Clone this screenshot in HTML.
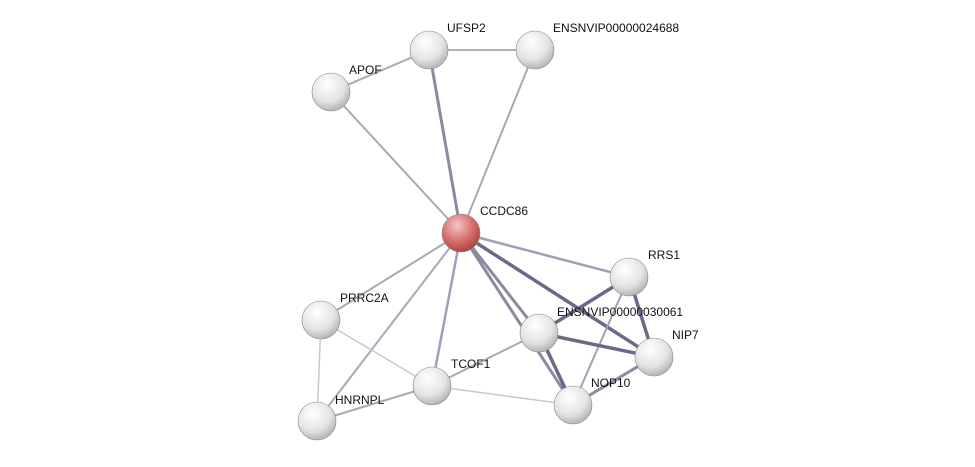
<!DOCTYPE html>
<html><head><meta charset="utf-8"><style>
html,body{margin:0;padding:0;background:#fff;}
svg{display:block;}
text{font-family:"Liberation Sans",sans-serif;font-size:12px;fill:#111;}
</style></head><body>
<svg width="975" height="467" viewBox="0 0 975 467" xmlns="http://www.w3.org/2000/svg">
<defs>
<radialGradient id="g" cx="0.4" cy="0.3" r="0.75">
<stop offset="0" stop-color="#ffffff"/><stop offset="0.6" stop-color="#e4e4e4"/><stop offset="1" stop-color="#adadad"/>
</radialGradient>
<radialGradient id="r" cx="0.4" cy="0.3" r="0.75">
<stop offset="0" stop-color="#f4c4c4"/><stop offset="0.55" stop-color="#d87070"/><stop offset="1" stop-color="#a83c3c"/>
</radialGradient>
</defs>
<g stroke-linecap="round">
<line x1="331" y1="92" x2="429" y2="50" stroke="#a8a8b8" stroke-width="2"/>
<line x1="429" y1="50" x2="535" y2="50" stroke="#b0b0c0" stroke-width="2"/>
<line x1="429" y1="50" x2="461" y2="233" stroke="#8a8aa0" stroke-width="3"/>
<line x1="535" y1="50" x2="461" y2="233" stroke="#a8a8b8" stroke-width="2"/>
<line x1="331" y1="92" x2="461" y2="233" stroke="#a8a8b8" stroke-width="2"/>
<line x1="461" y1="233" x2="629" y2="277" stroke="#a0a0b4" stroke-width="2.5"/>
<line x1="461" y1="233" x2="321" y2="320" stroke="#a8a8b8" stroke-width="2"/>
<line x1="461" y1="233" x2="317" y2="421" stroke="#a8a8b8" stroke-width="2"/>
<line x1="461" y1="233" x2="432" y2="386" stroke="#a0a0b4" stroke-width="2.5"/>
<line x1="461" y1="233" x2="539" y2="333" stroke="#8a8aa0" stroke-width="3"/>
<line x1="461" y1="233" x2="654" y2="357" stroke="#6a6a88" stroke-width="3.5"/>
<line x1="461" y1="233" x2="573" y2="405" stroke="#8a8aa0" stroke-width="3"/>
<line x1="321" y1="320" x2="317" y2="421" stroke="#c8c8d0" stroke-width="1.5"/>
<line x1="321" y1="320" x2="432" y2="386" stroke="#c8c8d0" stroke-width="1.5"/>
<line x1="317" y1="421" x2="432" y2="386" stroke="#a8a8b8" stroke-width="2"/>
<line x1="432" y1="386" x2="539" y2="333" stroke="#a8a8b8" stroke-width="2"/>
<line x1="432" y1="386" x2="573" y2="405" stroke="#c8c8d0" stroke-width="1.5"/>
<line x1="629" y1="277" x2="539" y2="333" stroke="#6a6a88" stroke-width="3.5"/>
<line x1="629" y1="277" x2="654" y2="357" stroke="#6a6a88" stroke-width="3.5"/>
<line x1="629" y1="277" x2="573" y2="405" stroke="#a0a0b4" stroke-width="2"/>
<line x1="539" y1="333" x2="654" y2="357" stroke="#6a6a88" stroke-width="3.5"/>
<line x1="539" y1="333" x2="573" y2="405" stroke="#6a6a88" stroke-width="3.5"/>
<line x1="654" y1="357" x2="573" y2="405" stroke="#8a8aa0" stroke-width="3"/>
</g>
<g stroke="#888" stroke-width="0.6">
<circle cx="429" cy="50" r="19" fill="url(#g)"/>
<circle cx="535" cy="50" r="19" fill="url(#g)"/>
<circle cx="331" cy="92" r="19" fill="url(#g)"/>
<circle cx="461" cy="233" r="19" fill="url(#r)"/>
<circle cx="629" cy="277" r="19" fill="url(#g)"/>
<circle cx="321" cy="320" r="19" fill="url(#g)"/>
<circle cx="539" cy="333" r="19" fill="url(#g)"/>
<circle cx="654" cy="357" r="19" fill="url(#g)"/>
<circle cx="432" cy="386" r="19" fill="url(#g)"/>
<circle cx="573" cy="405" r="19" fill="url(#g)"/>
<circle cx="317" cy="421" r="19" fill="url(#g)"/>
</g>
<text x="447" y="32">UFSP2</text>
<text x="553" y="32">ENSNVIP00000024688</text>
<text x="349" y="74">APOF</text>
<text x="480" y="215">CCDC86</text>
<text x="648" y="259">RRS1</text>
<text x="340" y="302">PRRC2A</text>
<text x="557" y="316">ENSNVIP00000030061</text>
<text x="672" y="339">NIP7</text>
<text x="451" y="368">TCOF1</text>
<text x="591" y="387">NOP10</text>
<text x="335" y="404">HNRNPL</text>
</svg>
</body></html>
